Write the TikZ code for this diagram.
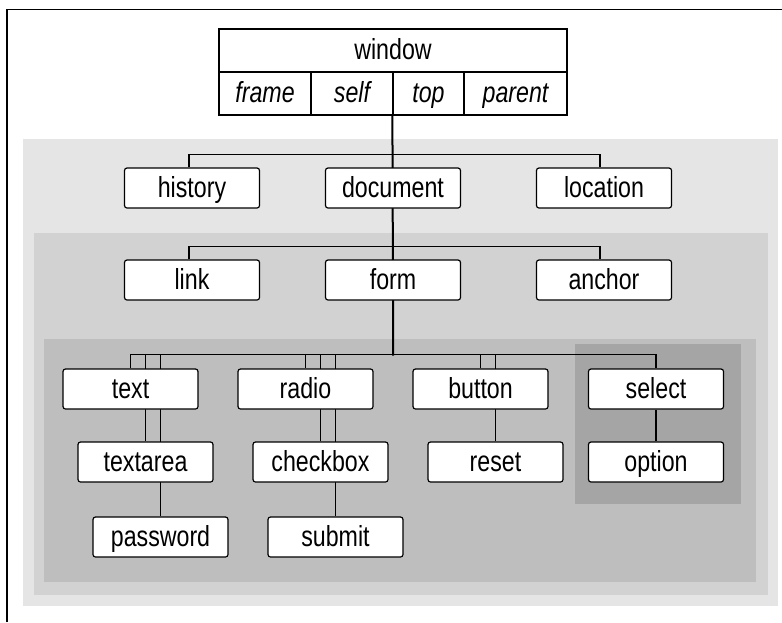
\documentclass[tikz,border=0pt]{standalone}
\usepackage{fontspec}
\setmainfont[FakeStretch=0.8]{Liberation Sans}
\pgfdeclarelayer{panels}
\pgfdeclarelayer{links}
\pgfsetlayers{panels,links,main}
\definecolor{shadeA}{gray}{0.90}
\definecolor{shadeB}{gray}{0.824}
\definecolor{shadeC}{gray}{0.745}
\definecolor{shadeD}{gray}{0.647}

\begin{document}
\begin{tikzpicture}[x=1pt,y=-1pt]
        \tikzstyle{cell}=[draw,fill=white,line width=1.2pt,inner sep=0pt,minimum height=43pt,
            text height=22pt,text depth=4pt,font=\fontsize{29}{32}\selectfont]
        \tikzstyle{item}=[cell,rounded corners=2.5pt,minimum width=135pt,minimum height=40pt]
        \tikzstyle{wire}=[draw=black,line width=1.1pt]
        \tikzstyle{trunk}=[wire,line width=2pt]
        \useasboundingbox (0,0) rectangle (782,622);
        \draw[line width=1.8pt] (7,622) -- (7,9.5) -- (782,9.5);
        \begin{pgfonlayer}{panels}
            \fill[shadeA] (23,139) rectangle (778,606);
            \fill[shadeB] (34,233) rectangle (768,595);
            \fill[shadeC] (44,339) rectangle (756,582);
            \fill[shadeD] (575,344) rectangle (741,504);
        \end{pgfonlayer}
        \node[cell,minimum width=348pt] (W) at (393,50.5) {window};
        \foreach \name/\x/\w in {frame/265/92,self/352/82,top/428.5/71,parent/515.5/103}
            \node[cell,minimum width=\w pt,font={\fontsize{29}{32}\selectfont\itshape}] (W-\name) at (\x,93.5) {\name};
        \foreach \name/\x/\y in {history/192/188,document/393/188,location/604/188,
                link/192/280,form/393/280,anchor/604/280,
                text/130.5/389,radio/305.5/389,button/480.5/389,select/656/389,
                textarea/145.5/462,checkbox/320.5/462,reset/495.5/462,option/656/462,
                password/160.5/537,submit/335.5/537}
            \node[item] (\name) at (\x,\y) {\name};
        \begin{pgfonlayer}{links}
            \draw[trunk] (W-top.south west) -- (form.south) -- ++(0,55);
            \draw[wire] ([xshift=-3pt]history.north) -- ++(0,-13) -| ([xshift=-4pt]location.north);
            \draw[wire] ([xshift=-3pt]link.north) -- ++(0,-13) -| ([xshift=-4pt]anchor.north);
            \draw[wire] (text.north) -- ++(0,-14) -| (select.north);
            \foreach \name/\d in {radio/14,button/14,textarea/87,password/162,checkbox/87,submit/162,reset/87}
                \draw[wire] (\name.north) -- ++(0,-\d);
            \draw[wire] (select) -- (option);
        \end{pgfonlayer}
\end{tikzpicture}
\end{document}
